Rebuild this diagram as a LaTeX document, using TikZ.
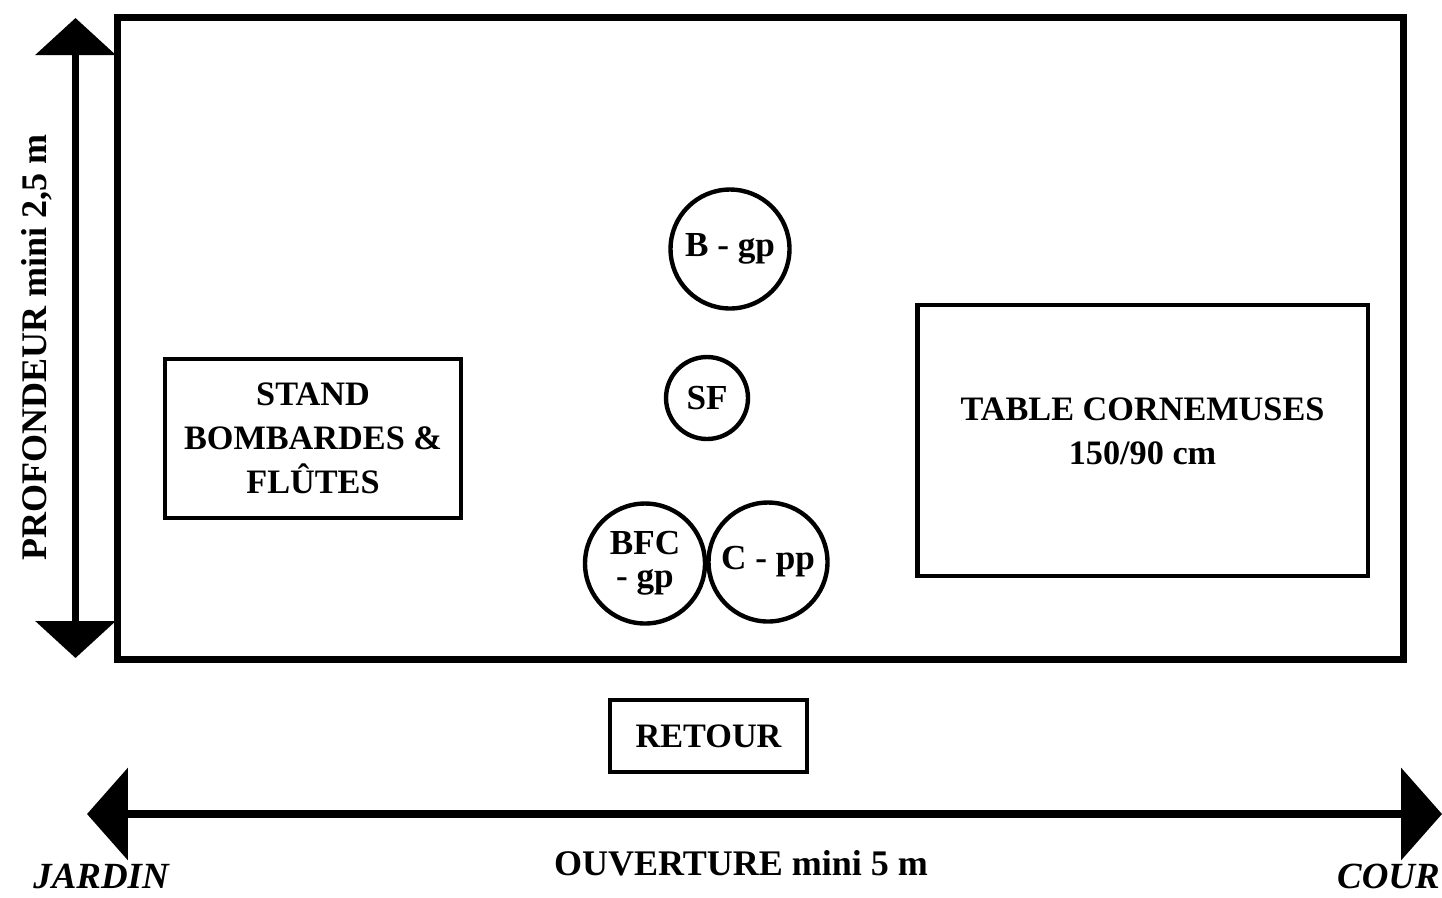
\documentclass[tikz,border=0pt]{standalone}
\usepackage{fontspec}
\setmainfont{Liberation Serif}
\usetikzlibrary{arrows.meta}
\begin{document}
\begin{tikzpicture}[x=0.02cm, y=-0.02cm,
	bloc/.style = {draw, line width=2.8pt, inner sep=0pt, align=center, font=\bfseries\fontsize{19.5}{25}\selectfont},
	pupitre/.style = {draw, circle, line width=2.5pt, inner sep=0pt, align=center, font=\bfseries\fontsize{20}{19}\selectfont},
	cote/.style = {line width=0.15cm},
	legende/.style = {font=\bfseries\fontsize{20.5}{25}\selectfont}]
	\useasboundingbox (0,0) rectangle (1442,897);
	% la scene
	\draw[line width=0.14cm] (117,17) rectangle (1403,659);
	\node[bloc, minimum width=5.92cm, minimum height=3.18cm] (stand) at (313,438.5) {STAND\\BOMBARDES \&\\FLÛTES};
	\node[bloc, minimum width=9.02cm, minimum height=5.42cm] (table) at (1142.5,440.5) {TABLE CORNEMUSES\\150/90 cm\\[-14pt]};
	\node[pupitre, minimum size=2.38cm] (bgp) at (730,249) {B - gp};
	\node[pupitre, minimum size=1.64cm] (sf) at (707,398) {SF};
	\node[pupitre, minimum size=2.4cm] (bfc) at (645,563.5) {BFC\\- gp};
	\node[pupitre, minimum size=2.38cm] (cpp) at (768,562) {C - pp};
	\node[bloc, minimum width=3.94cm, minimum height=1.44cm] (retour) at (708.5,736) {RETOUR};
	% les cotes
	\coordinate (profbas) at (75.5,658);
	\coordinate (profhaut) at (75.5,18);
	\draw[cote, {Triangle[width=1.58cm, length=0.74cm]}-{Triangle[width=1.58cm, length=0.74cm]}] (profbas) -- (profhaut);
	\coordinate (jardin) at (87,814);
	\coordinate (cour) at (1442,814);
	\draw[cote, line width=0.17cm, {Triangle[width=1.82cm, length=0.82cm]}-{Triangle[width=1.82cm, length=0.82cm]}] (jardin) -- (cour);
	\node[legende, rotate=90, anchor=base] (prof) at (46,347.5) {PROFONDEUR mini 2,5 m};
	\node[legende, anchor=base] (ouv) at (741,875) {OUVERTURE mini 5 m};
	\node[legende, font=\bfseries\itshape\fontsize{21}{25}\selectfont, anchor=base west, inner sep=0pt] (jard) at (33,888) {JARDIN};
	\node[legende, font=\bfseries\itshape\fontsize{21}{25}\selectfont, anchor=base east, inner sep=0pt] (cr) at (1440,888) {COUR};
\end{tikzpicture}
\end{document}
